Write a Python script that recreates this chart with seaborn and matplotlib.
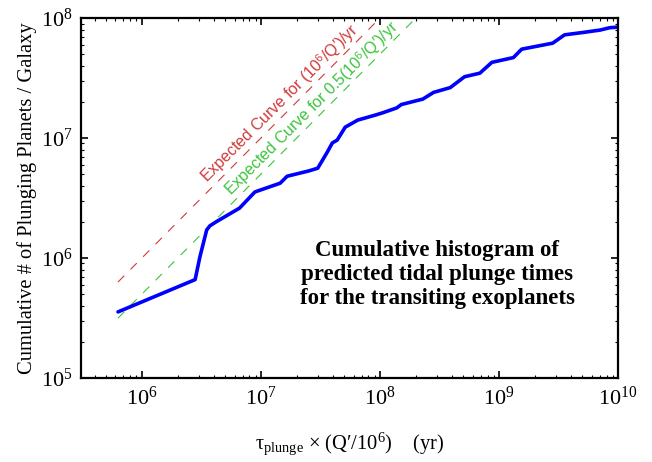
import numpy as np
import pandas as pd
import matplotlib
matplotlib.use("Agg")
import matplotlib.pyplot as plt
import seaborn as sns

# ---- data ----
tau_plunge = [6.3e5, 2.8e6, 3.07e6, 3.5e6, 3.72e6, 4.2e6, 6.6e6, 8.9e6, 1.45e7, 1.66e7,
              2.5e7, 3.0e7, 3.6e7, 3.98e7, 4.37e7, 5.1e7, 6.5e7, 9.1e7, 1.05e8, 1.38e8,
              1.51e8, 2.29e8, 2.82e8, 3.89e8, 5.13e8, 6.9e8, 8.7e8, 1.32e9, 1.55e9,
              2.82e9, 3.55e9, 5.13e9, 7.08e9, 8.5e9, 1.0e10]
cum_planets = [3.55e5, 6.6e5, 1.02e6, 1.71e6, 1.85e6, 2.0e6, 2.6e6, 3.55e6, 4.2e6, 4.8e6,
               5.3e6, 5.6e6, 7.6e6, 9.1e6, 9.6e6, 1.23e7, 1.41e7, 1.55e7, 1.62e7, 1.78e7,
               1.9e7, 2.11e7, 2.4e7, 2.63e7, 3.24e7, 3.47e7, 4.27e7, 4.68e7, 5.5e7,
               6.17e7, 7.24e7, 7.59e7, 7.94e7, 8.3e7, 8.4e7]

expected_tau = [6.3e5, 1.0e10]
rate_full = 1.0      # (10^6/Q')/yr
rate_half = 0.5      # 0.5 (10^6/Q')/yr

x_ticks = [1e6, 1e7, 1e8, 1e9, 1e10]
y_ticks = [1e5, 1e6, 1e7, 1e8]

df = pd.DataFrame({"tau": tau_plunge, "N": cum_planets})
exp_full = pd.DataFrame({"tau": expected_tau, "N": [t * rate_full for t in expected_tau]})
exp_half = pd.DataFrame({"tau": expected_tau, "N": [t * rate_half for t in expected_tau]})

# ---- style ----
sns.set_style("ticks")
plt.rcParams["font.family"] = ["Liberation Serif", "DejaVu Serif"]
plt.rcParams["mathtext.fontset"] = "custom"
plt.rcParams["mathtext.rm"] = "Liberation Serif"
plt.rcParams["mathtext.it"] = "Liberation Serif:italic"
plt.rcParams["mathtext.bf"] = "Liberation Serif:bold"
plt.rcParams["mathtext.sf"] = "Liberation Sans"
for k in ["text.color", "axes.labelcolor", "xtick.color", "ytick.color", "axes.edgecolor"]:
    plt.rcParams[k] = "black"

fig = plt.figure(figsize=(6.52, 4.62), dpi=100)
ax = fig.add_axes([0.124, 0.182, 0.824, 0.779])
ax.set_xscale("log")
ax.set_yscale("log")

red = "#d03a3a"
green = "#3cc43c"

sns.lineplot(data=exp_full, x="tau", y="N", ax=ax, color=red, linewidth=0.8,
             linestyle=(0, (8, 8)), estimator=None, sort=False)
sns.lineplot(data=exp_half, x="tau", y="N", ax=ax, color=green, linewidth=0.8,
             linestyle=(0, (8, 8)), estimator=None, sort=False)
sns.lineplot(data=df, x="tau", y="N", ax=ax, color="#0000ff", linewidth=2.6,
             estimator=None, sort=False)

ax.set_xlim(3.07e5, 1e10)
ax.set_ylim(1e5, 1e8)
ax.set_xticks(x_ticks)
ax.set_yticks(y_ticks)

ax.tick_params(which="both", direction="in", top=True, right=True, labelsize=16)
ax.tick_params(which="major", length=5, width=1.2, pad=6)
ax.tick_params(which="minor", length=2.5, width=0.8)
for s in ax.spines.values():
    s.set_linewidth(1.6)

ax.set_ylabel("Cumulative # of Plunging Planets / Galaxy", fontsize=14.8)
ax.yaxis.set_label_coords(-0.082, 0.5)
ax.set_xlabel(r"τ$_{\mathrm{plunge}}$ $\times$ (Q′/10$^{6}$)    (yr)", fontsize=14.8)
ax.xaxis.set_label_coords(0.5, -0.145)

ax.text(10**6.55, 10**6.62, r"Expected Curve for (10$^{\mathsf{6}}$/Q′)/yr",
        color=red, fontsize=11.5, family=["Liberation Sans", "DejaVu Sans"],
        rotation=45, rotation_mode="anchor", ha="left", va="baseline")
ax.text(10**6.75, 10**6.51, r"Expected Curve for 0.5(10$^{\mathsf{6}}$/Q′)/yr",
        color=green, fontsize=11.5, family=["Liberation Sans", "DejaVu Sans"],
        rotation=45, rotation_mode="anchor", ha="left", va="baseline")

ax.text(0.663, 0.288,
        "Cumulative histogram of\npredicted tidal plunge times\nfor the transiting exoplanets",
        transform=ax.transAxes, ha="center", va="center", multialignment="center",
        fontsize=16.5, fontweight="bold", linespacing=1.18)

fig.savefig("out.png", dpi=100)
